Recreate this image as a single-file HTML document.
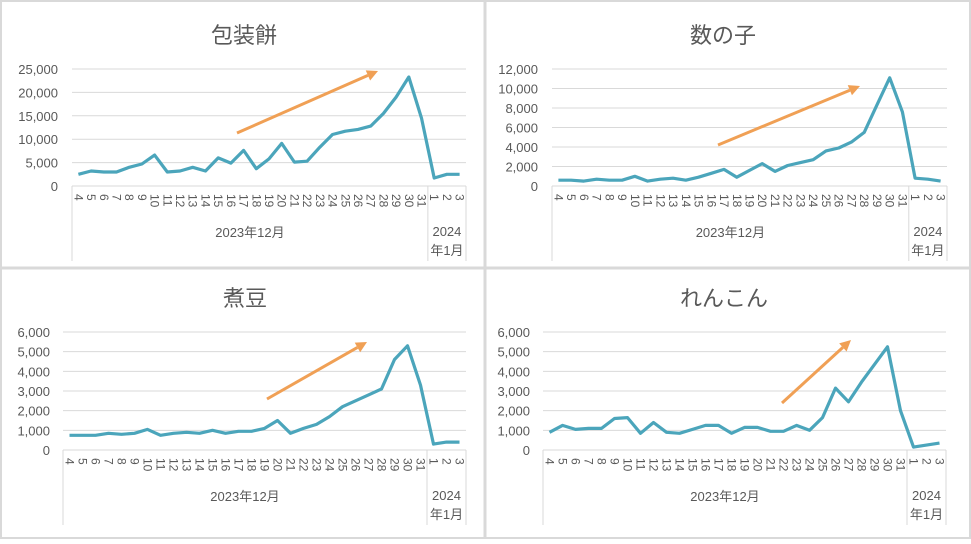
<!DOCTYPE html>
<html><head><meta charset="utf-8"><style>
body{margin:0;background:#fff;width:971px;height:539px;overflow:hidden}
svg text{font-family:"Liberation Sans","Noto Sans CJK JP",sans-serif;fill:#595959}
</style></head><body>
<svg id="s" width="971" height="539">
<rect x="1" y="1" width="969" height="537" fill="#fff" stroke="#d9d9d9" stroke-width="2"/>
<line x1="485" y1="0" x2="485" y2="539" stroke="#d9d9d9" stroke-width="3"/>
<line x1="0" y1="268" x2="971" y2="268" stroke="#d9d9d9" stroke-width="3"/>
</svg>
<script>
const categories=["4","5","6","7","8","9","10","11","12","13","14","15","16","17","18","19","20","21","22","23","24","25","26","27","28","29","30","31","1","2","3"];
const titles=["包装餅","数の子","煮豆","れんこん"];
const mochiValues=[2500,3200,3000,3000,4000,4700,6600,3000,3200,4000,3200,6000,4900,7600,3700,5800,9100,5100,5300,8300,11000,11700,12100,12800,15500,19000,23300,14500,1700,2500,2500];
const kazunokoValues=[600,600,500,700,600,600,1000,500,700,800,600,900,1300,1700,900,1600,2300,1500,2100,2400,2700,3600,3900,4500,5500,8300,11100,7600,800,700,500];
const nimameValues=[750,750,750,850,800,850,1050,750,850,900,850,1000,850,950,950,1100,1500,850,1100,1300,1700,2200,2500,2800,3100,4600,5300,3300,300,400,400];
const renkonValues=[900,1250,1050,1100,1100,1600,1650,850,1400,900,850,1050,1250,1250,850,1150,1150,950,950,1250,1000,1650,3150,2450,3450,4350,5250,2000,150,250,350];
const mochiTicks=[0,5000,10000,15000,20000,25000];
const kazunokoTicks=[0,2000,4000,6000,8000,10000,12000];
const nimameTicks=[0,1000,2000,3000,4000,5000,6000];
const renkonTicks=[0,1000,2000,3000,4000,5000,6000];

const NS="http://www.w3.org/2000/svg";
const svg=document.getElementById('s');
function mk(tag,attrs,parent){const e=document.createElementNS(NS,tag);for(const k in attrs)e.setAttribute(k,attrs[k]);(parent||svg).appendChild(e);return e;}
const panels=[
 {name:'mochi',vals:mochiValues,ticks:mochiTicks,x0:72,x1:466,yTop:69,yBot:186,tx:244,ty:43,lx:58,arrow:[237,133,378,71]},
 {name:'kazunoko',vals:kazunokoValues,ticks:kazunokoTicks,x0:552,x1:947,yTop:69,yBot:186,tx:723,ty:43,lx:538,arrow:[718,145,860,86]},
 {name:'nimame',vals:nimameValues,ticks:nimameTicks,x0:63,x1:466,yTop:332,yBot:450,tx:245,ty:306,lx:50,arrow:[267,399,367,342]},
 {name:'renkon',vals:renkonValues,ticks:renkonTicks,x0:543,x1:946,yTop:332,yBot:450,tx:724,ty:306,lx:530,arrow:[782,403,851,340]}
];
panels.forEach((p,pi)=>{
 const g=mk('g',{});
 
 
 const maxT=p.ticks[p.ticks.length-1];
 const y=v=>p.yBot-(v/maxT)*(p.yBot-p.yTop);
 const n=categories.length, w=(p.x1-p.x0)/n;
 const x=i=>p.x0+w*(i+0.5);
 const t=mk('text',{x:p.tx,y:p.ty,'font-size':22,'text-anchor':'middle'},g);
 t.textContent=titles[pi];
 
 
 p.ticks.forEach(v=>{
  if(v>0){const gl=mk('line',{x1:p.x0,x2:p.x1,y1:y(v),y2:y(v),stroke:'#d9d9d9','stroke-width':1},g);
   
   }
  const tl=mk('text',{x:p.lx,y:y(v)+5,'font-size':13,'text-anchor':'end'},g);
  tl.textContent=v.toLocaleString('en-US');
  
  
 });
 mk('line',{x1:p.x0,x2:p.x1,y1:p.yBot,y2:p.yBot,stroke:'#d9d9d9'},g);
 const sep=p.x0+w*28, bot=p.yBot+75;
 [p.x0,sep,p.x1].forEach(xx=>mk('line',{x1:xx,x2:xx,y1:p.yBot,y2:bot,stroke:'#d9d9d9'},g));
 categories.forEach((c,i)=>{
  const ct=mk('text',{x:0,y:0,'font-size':12,transform:`translate(${x(i)-4},${p.yBot+8}) rotate(90)`},g);
  ct.textContent=c;
  
  
 });
 const m1=mk('text',{x:(p.x0+sep)/2,y:p.yBot+51,'font-size':13,'text-anchor':'middle'},g);
 m1.textContent='2023年12月';
 
 
 const m2=mk('text',{x:(sep+p.x1)/2,y:p.yBot+50,'font-size':13,'text-anchor':'middle'},g);
 m2.textContent='2024';
 
 
 const m3=mk('text',{x:(sep+p.x1)/2,y:p.yBot+69,'font-size':13,'text-anchor':'middle'},g);
 m3.textContent='年1月';
 
 
 const pts=p.vals.map((v,i)=>x(i).toFixed(1)+','+y(v).toFixed(1)).join(' ');
 const line=mk('polyline',{points:pts,fill:'none',stroke:'#4ba5bb','stroke-width':3.2,'stroke-linejoin':'round'},g);
 
 
 const [ax1,ay1,ax2,ay2]=p.arrow;
 const ang=Math.atan2(ay2-ay1,ax2-ax1), L=11;
 const bx=ax2-L*Math.cos(ang), by=ay2-L*Math.sin(ang);
 const ar=mk('g',{},g);
 
 
 mk('line',{x1:ax1,y1:ay1,x2:bx,y2:by,stroke:'#f0a055','stroke-width':3},ar);
 const px=-Math.sin(ang)*5.5, py=Math.cos(ang)*5.5;
 mk('polygon',{points:`${ax2},${ay2} ${bx+px},${by+py} ${bx-px},${by-py}`,fill:'#f0a055'},ar);
});
</script>
</body></html>
